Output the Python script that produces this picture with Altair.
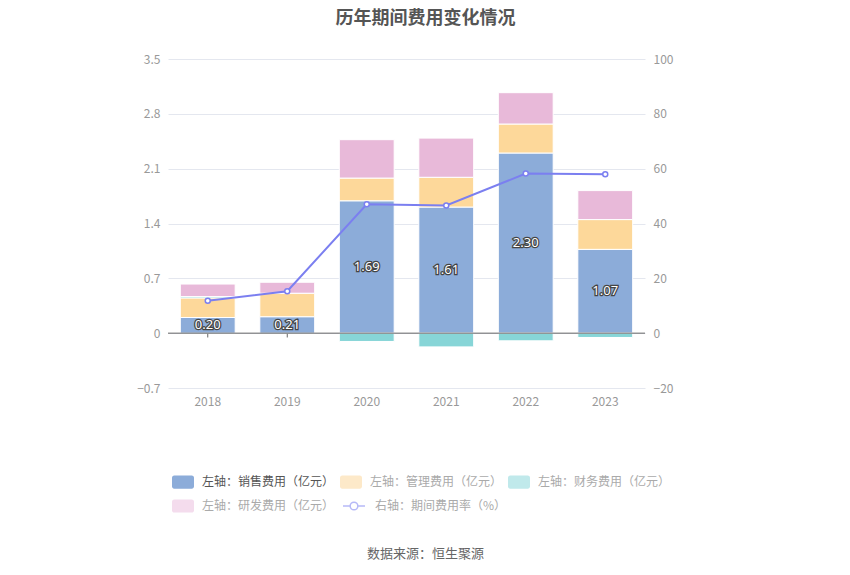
import altair as alt
import pandas as pd

years = ["2018", "2019", "2020", "2021", "2022", "2023"]
sales = [0.20, 0.21, 1.69, 1.61, 2.30, 1.07]
manage = [0.25, 0.30, 0.29, 0.38, 0.37, 0.38]
finance = [0.017, 0.0, -0.106, -0.175, -0.098, -0.055]
rnd = [0.16, 0.14, 0.49, 0.50, 0.40, 0.37]
rate = [11.8, 15.3, 47.0, 46.6, 58.2, 58.0]

series = ["左轴：销售费用（亿元）", "左轴：管理费用（亿元）", "左轴：财务费用（亿元）", "左轴：研发费用（亿元）"]
line_name = "右轴：期间费用率（%）"
bar_colors = ["#8cacd9", "#fdd89a", "#87d5d7", "#e8b9d9"]
legend_colors = ["#8cacd9", "#fde9c9", "#c0e9eb", "#f4dced"]

rows = []
for i, y in enumerate(years):
    for k, (name, vals) in enumerate(zip(series, [sales, manage, finance, rnd])):
        rows.append({"year": y, "series": name, "value": vals[i], "order": k})
bars_df = pd.DataFrame(rows)
sales_df = pd.DataFrame({"year": years, "sales": sales, "half": [v / 2 for v in sales],
                         "label": [f"{v:.2f}" for v in sales]})
rate_df = pd.DataFrame({"year": years, "rate": rate, "name": [line_name] * len(years)})

x_enc = alt.X("year:N", sort=years,
              scale=alt.Scale(paddingInner=0.31, paddingOuter=0.155),
              axis=alt.Axis(title="数据来源：恒生聚源", titleFontSize=13, titleFontWeight="normal",
                            titleColor="#666", titlePadding=140, titleX=257,
                            labelColor="#999", labelFontSize=12, labelPadding=8,
                            domain=False, ticks=False, labelAngle=0))
y_scale = alt.Scale(domain=[-0.7, 3.5], nice=False, zero=False)
y_axis = alt.Axis(title=None, values=[-0.7, 0, 0.7, 1.4, 2.1, 2.8, 3.5],
                  labelExpr="datum.value == 0 ? '0' : format(datum.value, '.1f')",
                  labelColor="#999", labelFontSize=12, labelPadding=8,
                  domain=False, ticks=False, gridColor="#e4e7ef")

rect_path = "M-0.8,-0.6H0.8A0.2,0.2 0 0 1 1,-0.4V0.4A0.2,0.2 0 0 1 0.8,0.6H-0.8A0.2,0.2 0 0 1 -1,0.4V-0.4A0.2,0.2 0 0 1 -0.8,-0.6Z"
line_path = "M-1.2,0H-0.42M0.42,0H1.2M-0.42,0A0.42,0.42 0 1,0 0.42,0A0.42,0.42 0 1,0 -0.42,0Z"

tick_base = alt.Chart(sales_df).mark_rule(color="#666", strokeWidth=1).encode(
    x=x_enc, y=alt.Y("z:Q", scale=y_scale, axis=y_axis), y2="z2:Q"
).transform_calculate(z="0", z2="-0.055")

bars = alt.Chart(bars_df).mark_bar(stroke="white", strokeWidth=1).encode(
    x=x_enc,
    y=alt.Y("value:Q", stack="zero", scale=y_scale, axis=y_axis),
    color=alt.Color("series:N", scale=alt.Scale(domain=series, range=bar_colors), legend=None),
    order=alt.Order("order:Q"),
)

legend_dummy = alt.Chart(bars_df).mark_bar(opacity=0).encode(
    x=x_enc,
    y=alt.Y("zero:Q", scale=y_scale, axis=y_axis),
    fill=alt.Fill("series:N", scale=alt.Scale(domain=series, range=legend_colors),
                  legend=alt.Legend(title=None, orient="none", legendX=4, legendY=412, columns=3,
                                    direction="horizontal",
                                    symbolType=rect_path, symbolSize=484, symbolOpacity=1,
                                    symbolStrokeWidth=0,
                                    labelFontSize=12, labelColor={"expr": "datum.index == 0 ? '#555' : '#aaa'"},
                                    labelOffset=8, columnPadding=5, rowPadding=6,
                                    labelFont="Noto Sans CJK SC")),
).transform_calculate(zero="0")

zero_rule = alt.Chart(sales_df).mark_rule(color="#666", strokeWidth=1).encode(
    y=alt.Y("z:Q", scale=y_scale, axis=y_axis)
).transform_calculate(z="0").transform_filter("datum.year == '2018'")

label_halo = alt.Chart(sales_df).mark_text(fontSize=13, color="#444", stroke="#444", strokeWidth=2.5,
                                           font="Noto Sans").encode(
    x=x_enc, y=alt.Y("half:Q", scale=y_scale, axis=y_axis), text="label:N")
label_text = alt.Chart(sales_df).mark_text(fontSize=13, color="white", font="Noto Sans").encode(
    x=x_enc, y=alt.Y("half:Q", scale=y_scale, axis=y_axis), text="label:N")

left = alt.layer(tick_base, bars, legend_dummy, zero_rule, label_halo, label_text)

r_scale = alt.Scale(domain=[-20, 100], nice=False, zero=False)
r_axis = alt.Axis(title=None, orient="right", values=[-20, 0, 20, 40, 60, 80, 100],
                  labelColor="#999", labelFontSize=12, labelPadding=8,
                  domain=False, ticks=False, grid=False)

line = alt.Chart(rate_df).mark_line(color="#7b7ff0", strokeWidth=2).encode(
    x=x_enc, y=alt.Y("rate:Q", scale=r_scale, axis=r_axis))
pts = alt.Chart(rate_df).mark_point(filled=True, fill="white", stroke="#7b7ff0", strokeWidth=1.5,
                                    size=25, opacity=1).encode(
    x=x_enc, y=alt.Y("rate:Q", scale=r_scale, axis=r_axis))
line_legend = alt.Chart(rate_df).mark_point(opacity=0).encode(
    x=x_enc, y=alt.Y("rate:Q", scale=r_scale, axis=r_axis),
    stroke=alt.Stroke("name:N", scale=alt.Scale(domain=[line_name], range=["#b6b9f7"]),
                      legend=alt.Legend(title=None, orient="none", legendX=176, legendY=437,
                                        symbolType=line_path, symbolSize=336, symbolOpacity=1,
                                        symbolStrokeWidth=1.5, symbolFillColor="white",
                                        labelFontSize=12, labelColor="#aaa", labelOffset=11,
                                        labelFont="Noto Sans CJK SC")),
)
right = alt.layer(line, pts, line_legend)

chart = alt.layer(left, right).resolve_scale(y="independent", stroke="independent", fill="independent").properties(
    width=477, height=329,
    padding={"left": 160, "top": 51, "right": 50, "bottom": 175},
    autosize=alt.AutoSizeParams(type="none"),
    title=alt.Title("历年期间费用变化情况", fontSize=18, fontWeight="bold", color="#555",
                    font="Noto Sans CJK SC", anchor="middle", dx=19, offset=25),
).configure(font="Noto Sans CJK SC", view=alt.ViewConfig(strokeWidth=0))

chart.save("out.html", embed_options={"renderer": "svg", "actions": False})
